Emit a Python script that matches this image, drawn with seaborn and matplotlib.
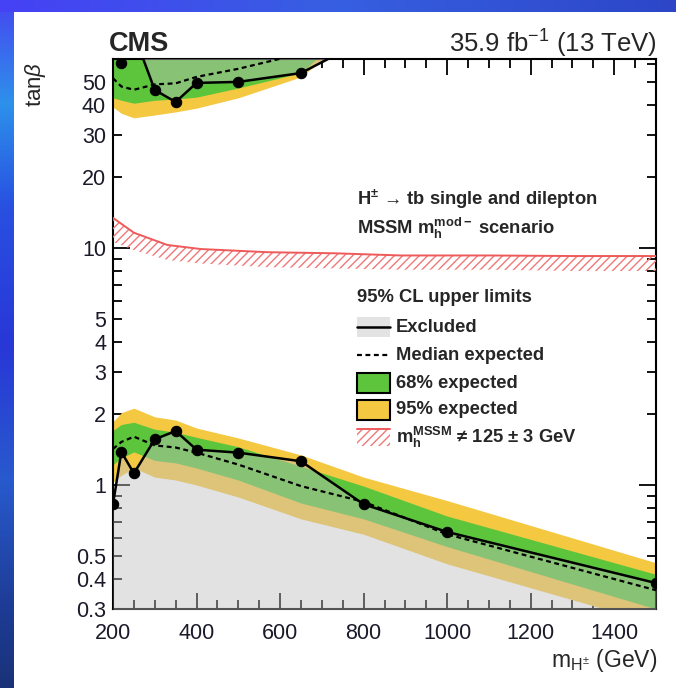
import numpy as np
import matplotlib
matplotlib.use("Agg")
import matplotlib.pyplot as plt
import seaborn as sns
from matplotlib.patches import Rectangle
from matplotlib.lines import Line2D
from matplotlib.ticker import FixedLocator, FuncFormatter, NullFormatter, MultipleLocator

# ---------------- data ----------------
mass = [200, 220, 250, 300, 350, 400, 500, 650, 800, 1000, 1500]
obs_low = [0.83, 1.38, 1.12, 1.56, 1.69, 1.41, 1.37, 1.26, 0.83, 0.634, 0.386]
exp_low = [1.42, 1.52, 1.60, 1.47, 1.44, 1.37, 1.22, 0.99, 0.85, 0.62, 0.36]
g68_lo = [1.22, 1.30, 1.38, 1.27, 1.24, 1.18, 1.05, 0.84, 0.72, 0.55, 0.30]
g68_hi = [1.70, 1.80, 1.84, 1.72, 1.67, 1.59, 1.45, 1.20, 0.99, 0.74, 0.42]
y95_lo = [1.03, 1.10, 1.18, 1.08, 1.05, 1.00, 0.89, 0.72, 0.62, 0.465, 0.26]
y95_hi = [1.85, 2.02, 2.11, 1.94, 1.88, 1.74, 1.58, 1.34, 1.08, 0.86, 0.47]

mass_up = [200, 220, 250, 300, 350, 400, 500, 650, 800]
obs_up = [75.0, 60.4, 80.0, 46.4, 41.3, 49.7, 50.2, 54.7, 75.0]
exp_up = [52.0, 48.0, 46.5, 49.0, 49.5, 52.7, 57.0, 66.0, 80.0]
g68_up_lo = [43.0, 42.0, 40.8, 42.0, 42.5, 43.3, 47.3, 54.8, 95.0]
y95_up_lo = [39.3, 37.0, 35.4, 36.4, 37.5, 38.9, 43.0, 52.7, 86.0]
band_top = [200.0] * len(mass_up)

mh_mass = [200, 250, 330, 410, 570, 730, 890, 1100, 1300, 1500]
mh_edge = [13.4, 11.6, 10.3, 9.9, 9.6, 9.5, 9.3, 9.3, 9.25, 9.25]
mh_low = [10.6, 9.8, 8.9, 8.6, 8.3, 8.2, 8.1, 8.1, 8.0, 8.0]

x_major = [200, 400, 600, 800, 1000, 1200, 1400]
y_major = [1, 10]
y_minor = [0.3, 0.4, 0.5, 0.6, 0.7, 0.8, 0.9, 2, 3, 4, 5, 6, 7, 8, 9, 20, 30, 40, 50, 60]
y_labels = {0.3: "0.3", 0.4: "0.4", 0.5: "0.5", 1: "1", 2: "2", 3: "3", 4: "4", 5: "5",
            10: "10", 20: "20", 30: "30", 40: "40", 50: "50"}

# ---------------- style ----------------
sns.set_style("ticks")
plt.rcParams['font.family'] = ['Liberation Sans', 'DejaVu Sans']
plt.rcParams['mathtext.fontset'] = 'custom'
plt.rcParams['mathtext.rm'] = 'Liberation Sans'
plt.rcParams['mathtext.it'] = 'Liberation Sans:italic'
plt.rcParams['mathtext.bf'] = 'Liberation Sans:bold'
plt.rcParams['hatch.linewidth'] = 1.0

GREEN = '#5cc53c'
YELLOW = '#f5c842'
RED = '#ee5a5a'
LEG_FS = 13.2

W, H = 676, 688
fig = plt.figure(figsize=(W / 100, H / 100), dpi=100)


def fx(px):
    return px / W


def fy(py):
    return 1 - py / H


# ---------------- blue frame background ----------------
bg = fig.add_axes([0, 0, 1, 1], zorder=-10)
img = np.ones((H, W, 3))
ys = np.linspace(0, 1, H)
stops_y = [0.0, 0.15, 0.3, 0.5, 0.7, 0.88, 1.0]
cols_y = np.array([[70, 70, 240], [45, 145, 235], [40, 80, 225], [40, 55, 215],
                   [40, 90, 205], [30, 60, 150], [25, 50, 120]]) / 255
left = np.stack([np.interp(ys, stops_y, cols_y[:, c]) for c in range(3)], axis=1)
img[:, :14, :] = left[:, None, :]
xs = np.linspace(0, 1, W)
stops_x = [0.0, 0.5, 1.0]
cols_x = np.array([[70, 65, 245], [55, 95, 225], [45, 70, 200]]) / 255
top = np.stack([np.interp(xs, stops_x, cols_x[:, c]) for c in range(3)], axis=1)
img[:12, :, :] = top[None, :, :]
bg.imshow(img, extent=[0, 1, 0, 1], aspect='auto', interpolation='nearest')
bg.set_axis_off()

# ---------------- main axes ----------------
ax = fig.add_axes([fx(113), fy(609), (656 - 113) / W, (609 - 59) / H])
ax.set_yscale('log')
ax.set_xlim(200, 1500)
ax.set_ylim(0.3, 62.7)

# bands
ax.fill_between(mass, y95_lo, y95_hi, color=YELLOW, lw=0, zorder=1)
ax.fill_between(mass, g68_lo, g68_hi, color=GREEN, lw=0, zorder=2)
ax.fill_between(mass_up, y95_up_lo, band_top, color=YELLOW, lw=0, zorder=1)
ax.fill_between(mass_up, g68_up_lo, band_top, color=GREEN, lw=0, zorder=2)

# excluded regions (grey overlay)
ax.fill_between(mass, [0.01] * len(mass), obs_low, color='#bfbfbf', alpha=0.44, lw=0, zorder=3)
ax.fill_between(mass_up, obs_up, band_top, color='#bfbfbf', alpha=0.44, lw=0, zorder=3)

# m_h hatched band
ax.fill_between(mh_mass, mh_low, mh_edge, facecolor='none', edgecolor='#f07878',
                hatch='////', lw=0, zorder=3)
sns.lineplot(x=mh_mass, y=mh_edge, ax=ax, color=RED, lw=1.4, zorder=4)

# expected (dashed)
sns.lineplot(x=mass, y=exp_low, ax=ax, color='black', lw=1.6, linestyle=(0, (2.2, 1.6)), zorder=5)
sns.lineplot(x=mass_up, y=exp_up, ax=ax, color='black', lw=1.6, linestyle=(0, (2.2, 1.6)), zorder=5)

# observed
sns.lineplot(x=mass, y=obs_low, ax=ax, color='black', lw=1.8, marker='o', markersize=7.5,
             markeredgecolor='black', zorder=6)
sns.lineplot(x=mass_up, y=obs_up, ax=ax, color='black', lw=1.8, marker='o', markersize=7.5,
             markeredgecolor='black', zorder=6)

# ticks
ax.xaxis.set_major_locator(FixedLocator(x_major))
ax.xaxis.set_minor_locator(MultipleLocator(50))
ax.yaxis.set_major_locator(FixedLocator(y_major))
ax.yaxis.set_minor_locator(FixedLocator(y_minor))
fmt = FuncFormatter(lambda v, p: y_labels.get(round(v, 3) if v < 1 else round(v), ''))
ax.yaxis.set_major_formatter(fmt)
ax.yaxis.set_minor_formatter(fmt)
ax.xaxis.set_minor_formatter(NullFormatter())
ax.tick_params(axis='both', which='both', direction='in', top=True, right=True,
               width=1.3, colors='black', labelsize=15.5)
ax.tick_params(axis='x', which='major', length=11.5, pad=10)
ax.tick_params(axis='x', which='minor', length=6.5)
ax.tick_params(axis='y', which='major', length=12, pad=5)
ax.tick_params(axis='y', which='minor', length=6.5, pad=5)
for lab in ax.get_xticklabels() + ax.get_yticklabels(which='both'):
    lab.set_color('#1a1a2a')
for s in ax.spines.values():
    s.set_linewidth(1.5)
    s.set_color('black')
    s.set_visible(True)
ax.set_xlabel('')
ax.set_ylabel('')
ax.set_facecolor('white')

# axis titles
fig.text(fx(35), fy(84), r'tan$\beta$', rotation=90, ha='center', va='center', fontsize=16)
fig.text(fx(657), fy(660), r'm$_{\mathregular{H}^{\pm}}$ (GeV)', ha='right', va='center', fontsize=16.5)

# header
fig.text(fx(109), fy(44), 'CMS', ha='left', va='center', fontsize=19.5, fontweight='bold')
fig.text(fx(657), fy(44), r'35.9 fb$^{\mathregular{-1}}$ (13 TeV)', ha='right', va='center', fontsize=18.5)

# info text
fig.text(fx(357), fy(199), r'$\mathbf{H^{\pm}}$ → tb single and dilepton', ha='left', va='center',
         fontsize=LEG_FS, fontweight='bold')
fig.text(fx(357), fy(228), r'MSSM $\mathbf{m_h^{mod-}}$ scenario', ha='left', va='center',
         fontsize=LEG_FS, fontweight='bold')

# legend
fig.text(fx(357), fy(298), '95% CL upper limits', ha='left', va='center', fontsize=LEG_FS, fontweight='bold')
bx0, bx1 = 357, 390
tx = 396
rows = [327, 355, 383, 410, 437]
fig.patches.append(Rectangle((fx(bx0), fy(rows[0] + 10)), (bx1 - bx0) / W, 20 / H,
                             transform=fig.transFigure, facecolor='#e3e3e3', edgecolor='none'))
fig.lines.append(Line2D([fx(bx0), fx(bx1)], [fy(rows[0]), fy(rows[0])], transform=fig.transFigure,
                        color='black', lw=1.8))
fig.lines.append(Line2D([fx(bx0), fx(bx1)], [fy(rows[1]), fy(rows[1])], transform=fig.transFigure,
                        color='black', lw=1.6, linestyle=(0, (2.2, 1.6))))
fig.patches.append(Rectangle((fx(bx0), fy(rows[2] + 10)), (bx1 - bx0) / W, 20 / H,
                             transform=fig.transFigure, facecolor=GREEN, edgecolor='black', lw=1.5))
fig.patches.append(Rectangle((fx(bx0), fy(rows[3] + 10)), (bx1 - bx0) / W, 20 / H,
                             transform=fig.transFigure, facecolor=YELLOW, edgecolor='black', lw=1.5))
fig.patches.append(Rectangle((fx(bx0), fy(rows[4] + 9)), (bx1 - bx0) / W, 17 / H,
                             transform=fig.transFigure, facecolor='none', edgecolor='#f07878',
                             hatch='////', lw=0))
fig.lines.append(Line2D([fx(bx0), fx(bx1)], [fy(rows[4] - 8), fy(rows[4] - 8)], transform=fig.transFigure,
                        color=RED, lw=1.4))
leg_texts = ['Excluded', 'Median expected', '68% expected', '95% expected',
             r'$\mathbf{m_h^{MSSM}}$ ≠ 125 ± 3 GeV']
for r, t in zip(rows, leg_texts):
    fig.text(fx(tx), fy(r), t, ha='left', va='center', fontsize=LEG_FS, fontweight='bold')

fig.savefig('out.png', dpi=100)
